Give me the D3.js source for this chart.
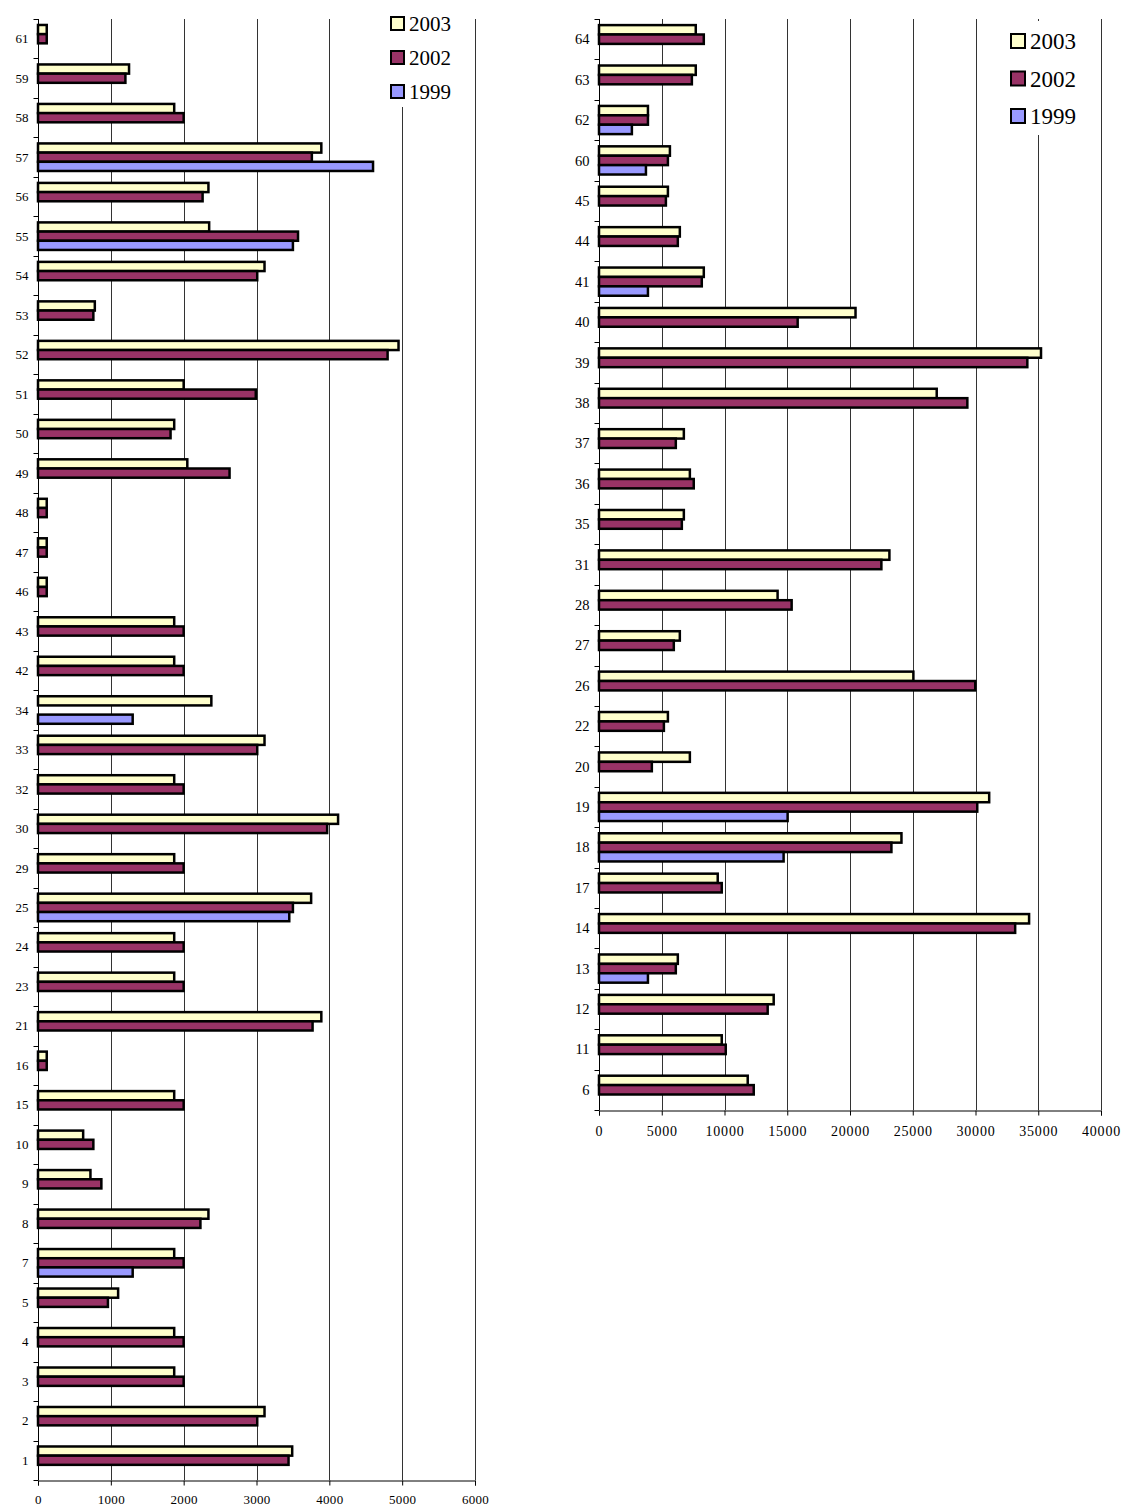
<!DOCTYPE html>
<html>
<head>
<meta charset="utf-8">
<script src="https://cdn.jsdelivr.net/npm/d3@7"></script>
<style>
  body { margin: 0; background: #fff; }
  svg { display: block; }
</style>
</head>
<body>
<svg id="chart" width="1124" height="1510"></svg>
<script>
// series shown in each category, top to bottom
const seriesNames = ["2003", "2002", "1999"];
const seriesColors = ["#ffffcc", "#993366", "#9999ff"];
const serif = "'Liberation Serif', 'Times New Roman', 'DejaVu Serif', serif";

// left chart
const leftCats = ["61", "59", "58", "57", "56", "55", "54", "53", "52", "51", "50", "49", "48", "47", "46", "43", "42", "34", "33", "32", "30", "29", "25", "24", "23", "21", "16", "15", "10", "9", "8", "7", "5", "4", "3", "2", "1"];
const left2003 = [120, 1250, 1870, 3890, 2340, 2350, 3110, 780, 4950, 2000, 1870, 2050, 120, 120, 120, 1870, 1870, 2380, 3110, 1870, 4120, 1870, 3750, 1870, 1870, 3890, 120, 1870, 620, 720, 2340, 1870, 1100, 1870, 1870, 3110, 3490];
const left2002 = [120, 1200, 2000, 3760, 2260, 3570, 3010, 760, 4800, 2990, 1820, 2630, 120, 120, 120, 2000, 2000, null, 3010, 2000, 3970, 2000, 3500, 2000, 2000, 3770, 120, 2000, 760, 870, 2230, 2000, 960, 2000, 2000, 3010, 3440];
const left1999 = [null, null, null, 4600, null, 3500, null, null, null, null, null, null, null, null, null, null, null, 1300, null, null, null, null, 3450, null, null, null, null, null, null, null, null, 1300, null, null, null, null, null];
const leftTicks = [0, 1000, 2000, 3000, 4000, 5000, 6000];

// right chart
const rightCats = ["64", "63", "62", "60", "45", "44", "41", "40", "39", "38", "37", "36", "35", "31", "28", "27", "26", "22", "20", "19", "18", "17", "14", "13", "12", "11", "6"];
const right2003 = [7710, 7710, 3900, 5650, 5490, 6440, 8350, 20440, 35220, 26910, 6760, 7240, 6760, 23140, 14230, 6440, 25050, 5490, 7240, 31090, 24100, 9460, 34270, 6280, 13920, 9780, 11850];
const right2002 = [8350, 7400, 3900, 5490, 5330, 6280, 8190, 15830, 34130, 29350, 6120, 7550, 6600, 22500, 15350, 5960, 29980, 5170, 4210, 30140, 23300, 9780, 33160, 6120, 13440, 10100, 12330];
const right1999 = [null, null, 2620, 3740, null, null, 3900, null, null, null, null, null, null, null, null, null, null, null, null, 15030, 14710, null, null, 3900, null, null, null];
const rightTicks = [0, 5000, 10000, 15000, 20000, 25000, 30000, 35000, 40000];

const svg = d3.select("#chart");

function drawChart(opt) {
  const g = svg.append("g");

  const x = d3.scaleLinear().domain(opt.domain).range([opt.left, opt.right]);
  const y = d3.scaleBand().domain(opt.cats).range([opt.top, opt.bottom]);
  const inner = d3.scaleBand().domain(seriesNames).range([0, y.bandwidth()]).paddingOuter(0.65);

  // vertical gridlines
  g.selectAll(".grid")
    .data(opt.ticks.filter((d) => d > 0))
    .enter()
    .append("line")
    .attr("x1", (d) => Math.round(x(d)) + 0.5)
    .attr("x2", (d) => Math.round(x(d)) + 0.5)
    .attr("y1", opt.top)
    .attr("y2", opt.bottom)
    .attr("stroke", "#333")
    .attr("stroke-width", 1);

  // bars, one row per category and series
  const rows = [];
  opt.cats.forEach((c, i) => {
    opt.values.forEach((vals, s) => {
      if (vals[i] != null) rows.push({ cat: c, series: seriesNames[s], value: vals[i], color: seriesColors[s] });
    });
  });

  g.selectAll(".bar")
    .data(rows)
    .enter()
    .append("rect")
    .attr("x", x(0))
    .attr("y", (d) => y(d.cat) + inner(d.series))
    .attr("width", (d) => x(d.value) - x(0))
    .attr("height", inner.bandwidth())
    .attr("fill", (d) => d.color)
    .attr("stroke", "#000")
    .attr("stroke-width", 2.5);

  // category axis: ticks between categories, labels in the middle
  const axisX = Math.round(x(0)) + 0.5;
  g.append("line")
    .attr("x1", axisX).attr("x2", axisX)
    .attr("y1", opt.top).attr("y2", opt.bottom)
    .attr("stroke", "#000");

  const bounds = opt.cats.map((c) => y(c)).concat([opt.bottom]);
  g.selectAll(".ytick")
    .data(bounds)
    .enter()
    .append("line")
    .attr("x1", axisX - 5)
    .attr("x2", axisX)
    .attr("y1", (d) => Math.round(d) + 0.5)
    .attr("y2", (d) => Math.round(d) + 0.5)
    .attr("stroke", "#000");

  g.selectAll(".ylabel")
    .data(opt.cats)
    .enter()
    .append("text")
    .attr("x", axisX - 10)
    .attr("y", (d) => y(d) + y.bandwidth() / 2)
    .attr("dy", "0.35em")
    .attr("text-anchor", "end")
    .style("font-family", serif)
    .style("font-size", opt.catFont + "px")
    .style("fill", "#000")
    .text((d) => d);

  // value axis
  const xAxis = d3.axisBottom(x)
    .tickValues(opt.ticks)
    .tickFormat(d3.format("d"))
    .tickSize(5)
    .tickPadding(opt.tickPad);

  const ax = g.append("g")
    .attr("transform", "translate(0," + (Math.round(opt.bottom) + 0.5) + ")")
    .call(xAxis);
  ax.select(".domain").attr("stroke", "#000");
  ax.selectAll(".tick line").attr("stroke", "#000");
  ax.selectAll(".tick text")
    .attr("fill", "#000")
    .style("font-family", serif)
    .style("font-size", opt.tickFont + "px")
    .style("letter-spacing", opt.tickSpacing + "px");

  // legend on a white box over the gridlines
  const lg = g.append("g");
  lg.append("rect")
    .attr("x", opt.legend.x - 6)
    .attr("y", opt.legend.top)
    .attr("width", opt.legend.w)
    .attr("height", opt.legend.h)
    .attr("fill", "#fff");

  const items = lg.selectAll(".item")
    .data(seriesNames)
    .enter()
    .append("g")
    .attr("transform", (d, i) => "translate(" + opt.legend.x + "," + (opt.legend.y0 + i * opt.legend.step) + ")");

  items.append("rect")
    .attr("x", 0)
    .attr("y", -opt.legend.box / 2)
    .attr("width", opt.legend.box)
    .attr("height", opt.legend.box)
    .attr("fill", (d, i) => seriesColors[i])
    .attr("stroke", "#000")
    .attr("stroke-width", 2);

  items.append("text")
    .attr("x", opt.legend.box + 5)
    .attr("y", 0)
    .attr("dy", "0.35em")
    .style("font-family", serif)
    .style("font-size", opt.legend.font + "px")
    .style("fill", "#000")
    .text((d) => d);
}

drawChart({
  cats: leftCats,
  values: [left2003, left2002, left1999],
  domain: [0, 6000],
  ticks: leftTicks,
  left: 38, right: 475, top: 19, bottom: 1480,
  catFont: 13, tickFont: 13, tickSpacing: 0.3, tickPad: 9,
  legend: { x: 391, y0: 23.5, step: 34, box: 13, font: 21, top: 8, w: 82, h: 99 }
});

drawChart({
  cats: rightCats,
  values: [right2003, right2002, right1999],
  domain: [0, 40000],
  ticks: rightTicks,
  left: 599, right: 1101, top: 19, bottom: 1110,
  catFont: 14.5, tickFont: 14, tickSpacing: 0.8, tickPad: 11,
  legend: { x: 1011, y0: 41, step: 37.5, box: 14, font: 23, top: 21, w: 86, h: 114 }
});
</script>
</body>
</html>
